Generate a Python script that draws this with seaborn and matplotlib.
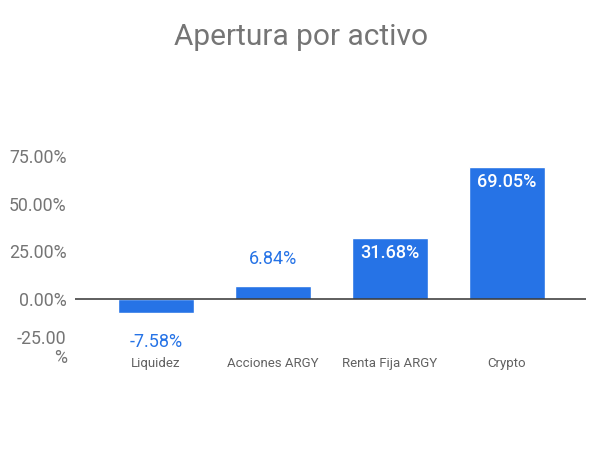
import matplotlib
matplotlib.use('Agg')
import matplotlib.pyplot as plt
import seaborn as sns
import pandas as pd

# datos
categorias = ['Liquidez', 'Acciones ARGY', 'Renta Fija ARGY', 'Crypto']
apertura = [-7.58, 6.84, 31.68, 69.05]
ticks_y = [-25, 0, 25, 50, 75]
etiquetas_y = ['-25.00\n%', '0.00%', '25.00%', '50.00%', '75.00%']

azul = '#2673e6'
gris = '#757575'

sns.set_style('white')
plt.rcParams['font.family'] = ['Roboto', 'DejaVu Sans']

df = pd.DataFrame({'activo': categorias, 'valor': apertura})

fig = plt.figure(figsize=(5.93, 4.65), dpi=100)
ax = fig.add_axes([75 / 593, 1 - 346 / 465, (586 - 75) / 593, (346 - 156) / 465])

sns.barplot(data=df, x='activo', y='valor', color=azul, saturation=1, width=0.65, ax=ax)

ax.set_xlim(-0.69, 3.675)
ax.set_ylim(-25, 75)
ax.axhline(0, color='#333333', lw=1.1, zorder=3)

ax.set_yticks(ticks_y)
ax.set_yticklabels(etiquetas_y, color=gris, fontsize=12.8, ha='right', linespacing=1.1)
ax.tick_params(axis='y', length=0, pad=6)
ax.tick_params(axis='x', length=0, pad=8, labelsize=9.5, labelcolor='#616161')
ax.set_xlabel('')
ax.set_ylabel('')
for s in ax.spines.values():
    s.set_visible(False)

# etiquetas de datos
for i, v in enumerate(apertura):
    texto = f'{v:.2f}%'
    if v > 20:
        ax.annotate(texto, (i, v), xytext=(0, -15), textcoords='offset pixels',
                    ha='center', va='center', color='white', fontsize=13,
                    fontweight='medium')
    elif v >= 0:
        ax.annotate(texto, (i, v), xytext=(0, 27), textcoords='offset pixels',
                    ha='center', va='center', color=azul, fontsize=13)
    else:
        ax.annotate(texto, (i, v), xytext=(0, -29), textcoords='offset pixels',
                    ha='center', va='center', color=azul, fontsize=13)

fig.text(0.508, 1 - 37 / 465, 'Apertura por activo', ha='center', va='center',
         fontsize=21.5, color=gris)

fig.savefig('out.png', dpi=100)
